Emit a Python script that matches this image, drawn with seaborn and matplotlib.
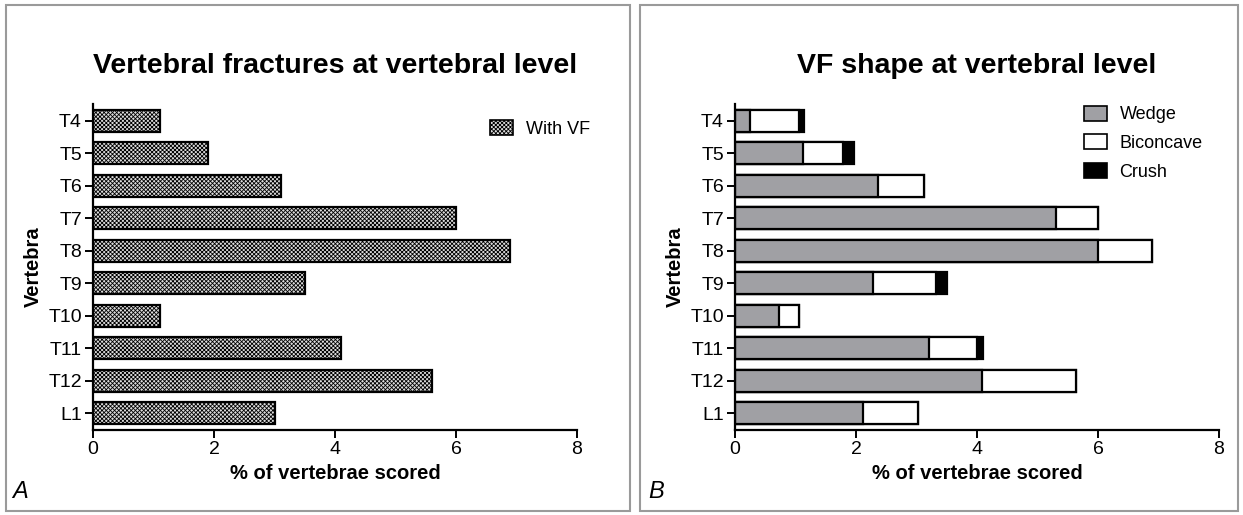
import matplotlib
matplotlib.use("Agg")
import matplotlib.pyplot as plt
from matplotlib.patches import Rectangle, Patch
import numpy as np
import pandas as pd
import seaborn as sns

vertebrae = ["T4", "T5", "T6", "T7", "T8", "T9", "T10", "T11", "T12", "L1"]
with_vf = [1.1, 1.9, 3.1, 6.0, 6.9, 3.5, 1.1, 4.1, 5.6, 3.0]
wedge = [0.24, 1.13, 2.37, 5.3, 6.0, 2.28, 0.72, 3.2, 4.08, 2.11]
biconcave = [0.81, 0.65, 0.75, 0.7, 0.9, 1.05, 0.34, 0.8, 1.55, 0.91]
crush = [0.09, 0.18, 0.0, 0.0, 0.0, 0.18, 0.0, 0.1, 0.0, 0.0]
x_ticks = [0, 2, 4, 6, 8]

sns.set_theme(style="white")
plt.rcParams["font.family"] = ["Liberation Sans", "DejaVu Sans"]
plt.rcParams["text.color"] = "black"
plt.rcParams["axes.labelcolor"] = "black"
plt.rcParams["hatch.color"] = "#4a4a4a"
plt.rcParams["hatch.linewidth"] = 0.6

W, H = 1243, 515
fig = plt.figure(figsize=(W / 100, H / 100), dpi=100)
fig.patch.set_facecolor("white")

# panel frames
for x0, x1 in [(6, 630), (640, 1238)]:
    fig.add_artist(Rectangle((x0 / W, 1 - 511 / H), (x1 - x0) / W, 506 / H,
                             transform=fig.transFigure, fill=False,
                             edgecolor="#9a9a9a", linewidth=1.5))

ax_pos = lambda left: [left / W, 1 - 430 / H, 484 / W, 326 / H]
axA = fig.add_axes(ax_pos(93))
axB = fig.add_axes(ax_pos(735))

df = pd.DataFrame({"Vertebra": vertebrae, "VF": with_vf,
                   "Wedge": wedge, "Biconcave": biconcave, "Crush": crush})
df["wb"] = df["Wedge"] + df["Biconcave"]
df["total"] = df["wb"] + df["Crush"]

bar_kw = dict(orient="h", width=0.67, edgecolor="black", linewidth=1.6)
hatch_fill = "#dcdcdc"
wedge_grey = "#a0a0a4"

# panel A: hatched bars
sns.barplot(data=df, x="VF", y="Vertebra", ax=axA, color="white",
            hatch="xxxxxxxx", **bar_kw)
for p in axA.patches:
    p.set_facecolor(hatch_fill)

# panel B: stacked by layering cumulative totals
sns.barplot(data=df, x="total", y="Vertebra", ax=axB, color="black",
            saturation=1, **bar_kw)
sns.barplot(data=df, x="wb", y="Vertebra", ax=axB, color="white",
            saturation=1, **bar_kw)
sns.barplot(data=df, x="Wedge", y="Vertebra", ax=axB, color=wedge_grey,
            saturation=1, **bar_kw)

titles = ["Vertebral fractures at vertebral level", "VF shape at vertebral level"]
for ax, title in zip([axA, axB], titles):
    ax.set_xlim(0, 8)
    ax.set_ylim(9.52, -0.52)
    ax.set_xticks(x_ticks)
    ax.set_xticklabels([str(t) for t in x_ticks])
    for s in ["top", "right"]:
        ax.spines[s].set_visible(False)
    for s in ["left", "bottom"]:
        ax.spines[s].set_color("black")
        ax.spines[s].set_linewidth(1.6)
    ax.tick_params(axis="both", direction="out", length=6, width=1.4,
                   color="black", labelsize=14, labelcolor="black", pad=2,
                   left=True, bottom=True)
    ax.set_xlabel("% of vertebrae scored", fontsize=14.5, fontweight="bold",
                  labelpad=4)
    ax.set_ylabel("Vertebra", fontsize=14.5, fontweight="bold", labelpad=4)
    ax.set_title(title, fontsize=20.5, fontweight="bold", pad=22)
    ax.set_facecolor("white")

leg_kw = dict(loc="upper right", frameon=False, fontsize=13,
              handlelength=1.3, handleheight=0.9, handletextpad=0.7)
axA.legend(handles=[Patch(facecolor=hatch_fill, edgecolor="black",
                          hatch="xxxxxxxx", linewidth=1.2)],
           labels=["With VF"], bbox_to_anchor=(1.06, 1.0), **leg_kw)
axB.legend(handles=[Patch(facecolor=wedge_grey, edgecolor="black", linewidth=1.2),
                    Patch(facecolor="white", edgecolor="black", linewidth=1.2),
                    Patch(facecolor="black", edgecolor="black", linewidth=1.2)],
           labels=["Wedge", "Biconcave", "Crush"], bbox_to_anchor=(1.0, 1.045),
           labelspacing=0.62, **leg_kw)

fig.text(12 / W, 1 - 492 / H, "A", fontsize=17, fontstyle="italic", va="center")
fig.text(648 / W, 1 - 492 / H, "B", fontsize=17, fontstyle="italic", va="center")

fig.savefig("out.png", dpi=100)
